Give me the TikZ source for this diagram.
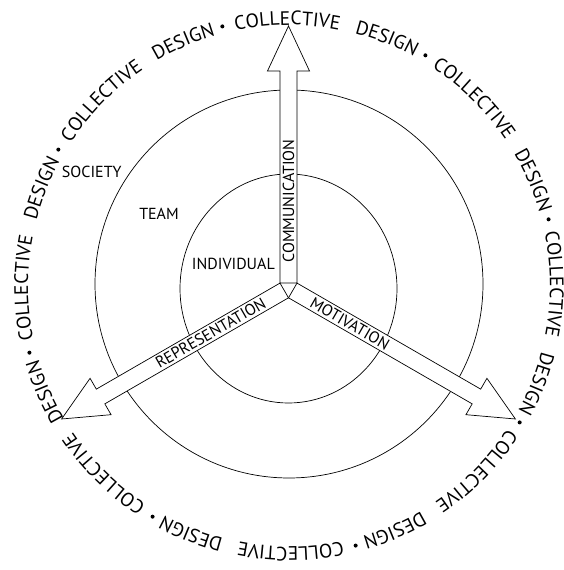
\documentclass[tikz,border=0pt]{standalone}
\usepackage{fontspec}
\setmainfont{PT Sans}
\usetikzlibrary{decorations.text}
\newcommand\ringfmt{\fontsize{19.5}{22}\selectfont}
\newcommand\lblfmt{\fontsize{16}{19}\selectfont}
\begin{document}
\begin{tikzpicture}[
  lbl/.style={inner sep=0pt, font=\lblfmt},
  ringline/.style={line width=0.7pt},
  bigarrow/.style={draw, fill=white, line width=0.7pt, line join=miter},
]
\useasboundingbox (0pt,0pt) rectangle (563pt,570pt);
\coordinate (C) at (288.5pt,282pt);
\coordinate (R) at (289pt,284pt);
% circles
\draw[ringline] (289pt,286pt) circle[radius=194pt];
\draw[ringline] (288.5pt,281.5pt) ellipse[x radius=108.5pt, y radius=114.5pt];
% arrows
\foreach \a in {90,210,-30}{
  \begin{scope}[shift={(C)}, rotate=\a]
    \draw[bigarrow] (4.907pt,-8.5pt) -- (217pt,-8.5pt) -- (217pt,-21pt) -- (262pt,0pt)
      -- (217pt,21pt) -- (217pt,8.5pt) -- (4.907pt,8.5pt) -- cycle;
  \end{scope}
}
% arrow labels
\node[lbl, rotate=90] (comm) at ([shift={(90:87pt)}]C) {COMMUNICATION};
\node[lbl, rotate=30] (repr) at ([shift={(210:90pt)}]C) {REPRESENTATION};
\node[lbl, rotate=-30] (moti) at ([shift={(-30:71pt)}]C) {MOTIVATION};
% level labels
\node[lbl] (society) at (91.7pt,398.3pt) {SOCIETY};
\node[lbl] (team) at (159pt,356pt) {TEAM};
\node[lbl] (indiv) at (233.4pt,305.8pt) {INDIVIDUAL};
% ring text
\foreach \k in {0,...,7}{
  \pgfmathsetmacro\tcs{90.35-45*\k+16}
  \pgfmathsetmacro\tce{90.35-45*\k-16}
  \pgfmathsetmacro\tds{68.4-45*\k+12}
  \pgfmathsetmacro\tde{68.4-45*\k-12}
  \pgfmathsetmacro\tb{104.4-45*\k}
  \path[decorate, decoration={text along path, text={|\ringfmt|COLLECTIVE}, text align=center}]
    ([shift={(\tcs:261pt)}]R) arc[start angle=\tcs, end angle=\tce, radius=261pt];
  \path[decorate, decoration={text along path, text={|\ringfmt|DESIGN}, text align=center}]
    ([shift={(\tds:261pt)}]R) arc[start angle=\tds, end angle=\tde, radius=261pt];
  \fill ([shift={(\tb:268pt)}]R) circle[radius=2pt];
}
\end{tikzpicture}
\end{document}
